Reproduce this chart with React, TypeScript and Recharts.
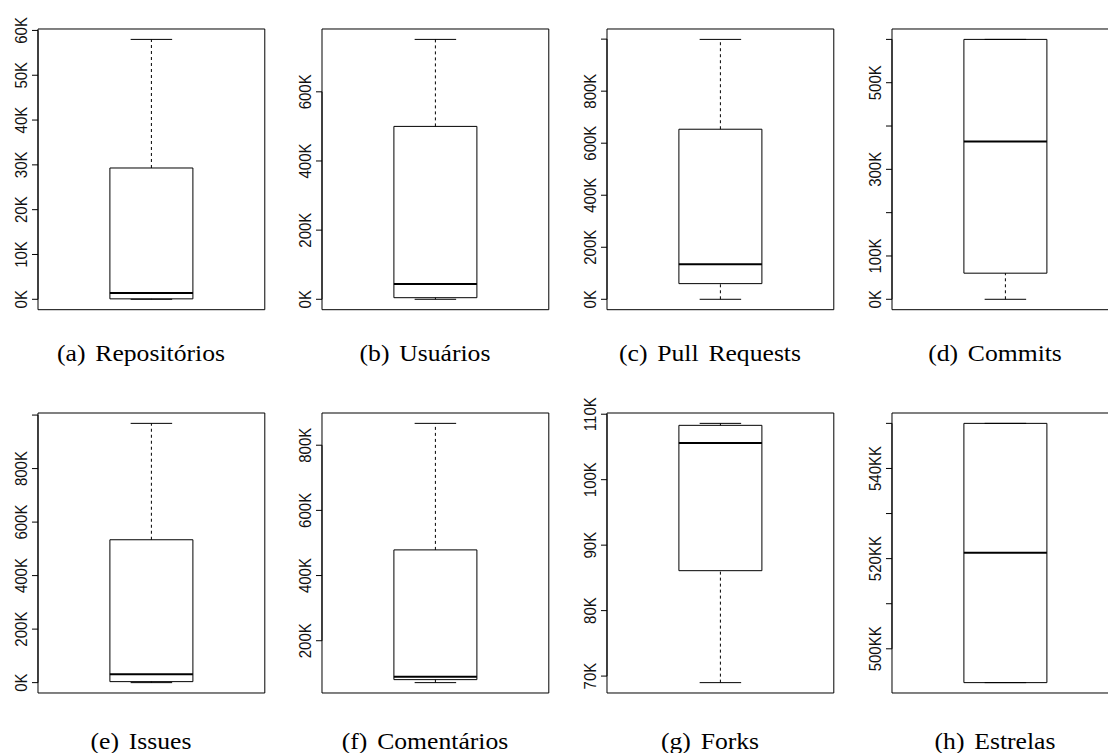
import React from "react";
import { ComposedChart, XAxis, YAxis, ReferenceArea, ReferenceLine } from "recharts";

// ---- data (units: K, except Estrelas in KK) ----
const captions = [
  "(a) Repositórios",
  "(b) Usuários",
  "(c) Pull Requests",
  "(d) Commits",
  "(e) Issues",
  "(f) Comentários",
  "(g) Forks",
  "(h) Estrelas",
];
const whiskerLow = [0, 0, 0, 0, 0, 71.4, 69.0, 492.5];
const lowerQuartile = [0.1, 4.6, 60.2, 60.3, 3.7, 80.6, 86.1, 492.5];
const medianValue = [1.4, 44.3, 135, 364, 31, 89.8, 105.6, 521.3];
const upperQuartile = [29.3, 500, 653.7, 600, 534, 478.7, 108.3, 550];
const whiskerHigh = [58.0, 751.6, 999, 600, 969, 867, 108.6, 550];
const tickValues = [
  [0, 10, 20, 30, 40, 50, 60],
  [0, 200, 400, 600],
  [0, 200, 400, 600, 800, 1000],
  [0, 100, 200, 300, 400, 500, 600],
  [0, 200, 400, 600, 800, 1000],
  [200, 400, 600, 800],
  [70, 80, 90, 100, 110],
  [500, 510, 520, 530, 540, 550],
];
const tickLabels = [
  ["0K", "10K", "20K", "30K", "40K", "50K", "60K"],
  ["0K", "200K", "400K", "600K"],
  ["0K", "200K", "400K", "600K", "800K", ""],
  ["0K", "100K", "", "300K", "", "500K", ""],
  ["0K", "200K", "400K", "600K", "800K", ""],
  ["200K", "400K", "600K", "800K"],
  ["70K", "80K", "90K", "100K", "110K"],
  ["500KK", "", "520KK", "", "540KK", ""],
];

// ---- layout constants ----
const COL_LEFT = [37.7, 322.3, 607.3, 891.7];
const ROW_TOP = [29.3, 413.3];
const ROW_H = [280.7, 280];
const CAPTION_BASE = [362, 750];
const PW = 226.8;
const AX_W = 45;
const MT = 30;
const MB = 10;
const MR = 5;
const X_DOMAIN: [number, number] = [0.5, 1.5];
const BOX_HALF = 0.183;
const CAP_HALF = 0.0915;
const STRETCH = 1.13;
const INK = "#000";

function RotTick(props: any) {
  const { x, y, payload, values, labels } = props;
  const i = values.indexOf(payload.value);
  const label = i >= 0 ? labels[i] : "";
  if (!label) return null;
  return (
    <text
      transform={`translate(${x - 5.25},${y}) scale(${STRETCH},1) rotate(-90)`}
      textAnchor="middle"
      fontFamily="'Liberation Sans', Arial, sans-serif"
      fontSize={15}
      fill="#111"
    >
      {label}
    </text>
  );
}

function Panel({ idx }: { idx: number }) {
  const col = idx % 4;
  const row = Math.floor(idx / 4);
  const lo = whiskerLow[idx];
  const hi = whiskerHigh[idx];
  const pad = (hi - lo) * 0.04;
  const domain: [number, number] = [lo - pad, hi + pad];
  const ph = ROW_H[row];
  const ticks = tickValues[idx];
  const data = [{ x: 1, y: medianValue[idx] }];
  const whisk = { stroke: INK, strokeWidth: 1, strokeDasharray: "3 3", ifOverflow: "visible" as const };
  const solid = { stroke: INK, strokeWidth: 1, ifOverflow: "visible" as const };
  return (
    <div
      style={{
        position: "absolute",
        left: COL_LEFT[col] - AX_W,
        top: ROW_TOP[row] - MT,
      }}
    >
      <ComposedChart
        width={AX_W + PW + MR}
        height={MT + ph + MB}
        data={data}
        margin={{ top: MT, right: MR, bottom: MB, left: 0 }}
      >
        <XAxis type="number" dataKey="x" domain={X_DOMAIN} allowDataOverflow hide />
        <YAxis
          type="number"
          domain={domain}
          allowDataOverflow
          ticks={ticks}
          interval={0}
          width={AX_W}
          tickSize={6}
          tickMargin={0}
          axisLine={false}
          tickLine={{ stroke: INK, strokeWidth: 1 }}
          tick={(p: any) => <RotTick {...p} values={ticks} labels={tickLabels[idx]} />}
        />
        {/* plot frame */}
        <ReferenceArea
          x1={X_DOMAIN[0]}
          x2={X_DOMAIN[1]}
          y1={domain[0]}
          y2={domain[1]}
          fill="none"
          fillOpacity={0}
          stroke={INK}
          strokeWidth={1}
          ifOverflow="visible"
        />
        {/* axis line between first and last tick */}
        <ReferenceLine
          segment={[
            { x: X_DOMAIN[0], y: ticks[0] },
            { x: X_DOMAIN[0], y: ticks[ticks.length - 1] },
          ]}
          {...solid}
        />
        {/* whiskers */}
        <ReferenceLine
          segment={[
            { x: 1, y: upperQuartile[idx] },
            { x: 1, y: hi },
          ]}
          {...whisk}
        />
        <ReferenceLine
          segment={[
            { x: 1, y: lo },
            { x: 1, y: lowerQuartile[idx] },
          ]}
          {...whisk}
        />
        {/* staples */}
        <ReferenceLine
          segment={[
            { x: 1 - CAP_HALF, y: hi },
            { x: 1 + CAP_HALF, y: hi },
          ]}
          {...solid}
        />
        <ReferenceLine
          segment={[
            { x: 1 - CAP_HALF, y: lo },
            { x: 1 + CAP_HALF, y: lo },
          ]}
          {...solid}
        />
        {/* box */}
        <ReferenceArea
          x1={1 - BOX_HALF}
          x2={1 + BOX_HALF}
          y1={lowerQuartile[idx]}
          y2={upperQuartile[idx]}
          fill="#fff"
          fillOpacity={1}
          stroke={INK}
          strokeWidth={1}
          ifOverflow="visible"
        />
        {/* median */}
        <ReferenceLine
          segment={[
            { x: 1 - BOX_HALF, y: medianValue[idx] },
            { x: 1 + BOX_HALF, y: medianValue[idx] },
          ]}
          stroke={INK}
          strokeWidth={2}
          ifOverflow="visible"
        />
      </ComposedChart>
    </div>
  );
}

function Caption({ idx }: { idx: number }) {
  const col = idx % 4;
  const row = Math.floor(idx / 4);
  const center = COL_LEFT[col] + PW / 2 - 10.5;
  const size = 22.7;
  return (
    <div
      style={{
        position: "absolute",
        left: center - 200,
        width: 400,
        top: CAPTION_BASE[row] - 0.8375 * size,
        textAlign: "center",
        fontFamily: "'Liberation Serif', 'Times New Roman', serif",
        fontSize: size,
        lineHeight: 1,
        wordSpacing: 3,
        whiteSpace: "pre",
        transform: `scaleX(${STRETCH})`,
        transformOrigin: "center",
        color: "#000",
      }}
    >
      {captions[idx]}
    </div>
  );
}

export default function App() {
  return (
    <div
      style={{
        position: "absolute",
        left: 0,
        top: 0,
        width: 1108,
        height: 753,
        overflow: "hidden",
        background: "#fff",
      }}
    >
      {captions.map((_, i) => (
        <Panel key={"p" + i} idx={i} />
      ))}
      {captions.map((_, i) => (
        <Caption key={"c" + i} idx={i} />
      ))}
    </div>
  );
}
